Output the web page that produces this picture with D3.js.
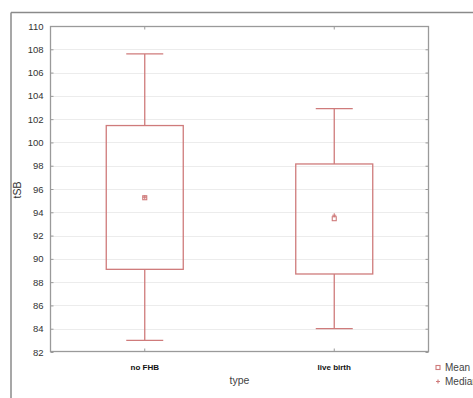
<!DOCTYPE html>
<html>
<head>
<meta charset="utf-8">
<script src="https://cdn.jsdelivr.net/npm/d3@7/dist/d3.min.js"></script>
<style>
  html, body { margin: 0; padding: 0; background: #fff; }
  svg { display: block; font-family: "Liberation Sans", Arial, sans-serif; }
</style>
</head>
<body>
<svg id="chart" width="473" height="398"></svg>
<script>
// Box plot of tSB by type
const categories = ["no FHB", "live birth"];
const whiskerLow  = [83.0, 84.0];
const boxLow      = [89.1, 88.7];
const boxHigh     = [101.45, 98.15];
const whiskerHigh = [107.6, 102.9];
const means       = [95.25, 93.45];
const medians     = [95.3, 93.75];
const yTicks = [82, 84, 86, 88, 90, 92, 94, 96, 98, 100, 102, 104, 106, 108, 110];

const svg = d3.select("#chart");
const plot = { left: 50, top: 26, right: 429, bottom: 352 };
const markColor = "#cf7b7b";
const frameColor = "#9a9a9a";

const x = d3.scaleBand().domain(categories).range([plot.left, plot.right]).paddingInner(0).paddingOuter(0);
const y = d3.scaleLinear().domain([82, 110]).range([plot.bottom, plot.top]);
const cx = c => x(c) + x.bandwidth() / 2;

// outer panel edges
svg.append("line").attr("x1", 11).attr("x2", 473).attr("y1", 12.5).attr("y2", 12.5)
  .attr("stroke", "#8a8a8a").attr("stroke-width", 1.5);
svg.append("line").attr("x1", 11).attr("x2", 11).attr("y1", 12.5).attr("y2", 398)
  .attr("stroke", "#8a8a8a").attr("stroke-width", 1.5);

// horizontal grid
svg.append("g").selectAll("line").data(yTicks.slice(1, -1)).join("line")
  .attr("x1", plot.left).attr("x2", plot.right)
  .attr("y1", d => Math.round(y(d)) + 0.5).attr("y2", d => Math.round(y(d)) + 0.5)
  .attr("stroke", "#ececec").attr("stroke-width", 1);

// left axis with labels
const yAxis = d3.axisLeft(y).tickValues(yTicks).tickSize(-3).tickPadding(7).tickFormat(d3.format("d"));
const gy = svg.append("g").attr("transform", `translate(${plot.left + 0.5},0)`).call(yAxis);
gy.select(".domain").remove();
gy.selectAll(".tick line").attr("stroke", frameColor);
gy.selectAll(".tick text").attr("fill", "#333").style("font-size", "9.5px");

// right axis ticks
const gyr = svg.append("g").attr("transform", `translate(${plot.right - 0.5},0)`)
  .call(d3.axisRight(y).tickValues(yTicks).tickSize(-3).tickFormat(""));
gyr.select(".domain").remove();
gyr.selectAll(".tick line").attr("stroke", frameColor);

// bottom axis with category labels
const gx = svg.append("g").attr("transform", `translate(0,${plot.bottom - 0.5})`)
  .call(d3.axisBottom(x).tickSize(-3).tickPadding(13));
gx.select(".domain").remove();
gx.selectAll(".tick line").attr("stroke", frameColor);
gx.selectAll(".tick text").attr("fill", "#111").style("font-size", "8px").style("font-weight", "bold");

// top axis ticks
const gxt = svg.append("g").attr("transform", `translate(0,${plot.top + 0.5})`)
  .call(d3.axisTop(x).tickSize(-3).tickFormat(""));
gxt.select(".domain").remove();
gxt.selectAll(".tick line").attr("stroke", frameColor);

// plot frame
svg.append("rect").attr("x", plot.left + 0.5).attr("y", plot.top + 0.5)
  .attr("width", plot.right - plot.left - 1).attr("height", plot.bottom - plot.top - 1)
  .attr("fill", "none").attr("stroke", frameColor).attr("stroke-width", 1.3);

// boxes
const data = categories.map((c, i) => ({
  c, lo: whiskerLow[i], q1: boxLow[i], q3: boxHigh[i], hi: whiskerHigh[i], mean: means[i], median: medians[i]
}));
const boxW = 77, capW = 37;
const g = svg.append("g").attr("stroke", markColor).attr("stroke-width", 1.3).attr("fill", "none");
const boxes = g.selectAll("g.box").data(data).join("g").attr("class", "box");
boxes.append("line").attr("x1", d => cx(d.c)).attr("x2", d => cx(d.c))
  .attr("y1", d => y(d.hi)).attr("y2", d => y(d.q3));
boxes.append("line").attr("x1", d => cx(d.c)).attr("x2", d => cx(d.c))
  .attr("y1", d => y(d.q1)).attr("y2", d => y(d.lo));
boxes.append("line").attr("x1", d => cx(d.c) - capW / 2).attr("x2", d => cx(d.c) + capW / 2)
  .attr("y1", d => y(d.hi)).attr("y2", d => y(d.hi));
boxes.append("line").attr("x1", d => cx(d.c) - capW / 2).attr("x2", d => cx(d.c) + capW / 2)
  .attr("y1", d => y(d.lo)).attr("y2", d => y(d.lo));
boxes.append("rect").attr("x", d => cx(d.c) - boxW / 2).attr("width", boxW)
  .attr("y", d => y(d.q3)).attr("height", d => y(d.q1) - y(d.q3));
// mean square
boxes.append("rect").attr("x", d => cx(d.c) - 2).attr("y", d => y(d.mean) - 2)
  .attr("width", 4).attr("height", 4).attr("stroke-width", 1.1);
// median plus
boxes.append("path").attr("d", d => {
  const px = cx(d.c), py = y(d.median);
  return `M${px - 2},${py}H${px + 2}M${px},${py - 2}V${py + 2}`;
}).attr("stroke-width", 1.1);

// axis titles
svg.append("text").attr("transform", `translate(21,${(plot.top + plot.bottom) / 2 + 1}) rotate(-90)`)
  .attr("text-anchor", "middle").attr("fill", "#333").style("font-size", "10.5px").text("tSB");
svg.append("text").attr("x", (plot.left + plot.right) / 2).attr("y", 384)
  .attr("text-anchor", "middle").attr("fill", "#444").style("font-size", "10.5px").text("type");

// legend
const legend = svg.append("g");
legend.append("rect").attr("x", 436).attr("y", 365.5).attr("width", 4).attr("height", 4)
  .attr("fill", "none").attr("stroke", markColor).attr("stroke-width", 1.1);
legend.append("text").attr("x", 445).attr("y", 370.5).attr("fill", "#444").style("font-size", "10px").text("Mean");
legend.append("path").attr("d", "M436,381.5H440M438,379.5V383.5").attr("stroke", markColor).attr("stroke-width", 1.1);
legend.append("text").attr("x", 445).attr("y", 384.5).attr("fill", "#444").style("font-size", "10px").text("Median");
</script>
</body>
</html>
